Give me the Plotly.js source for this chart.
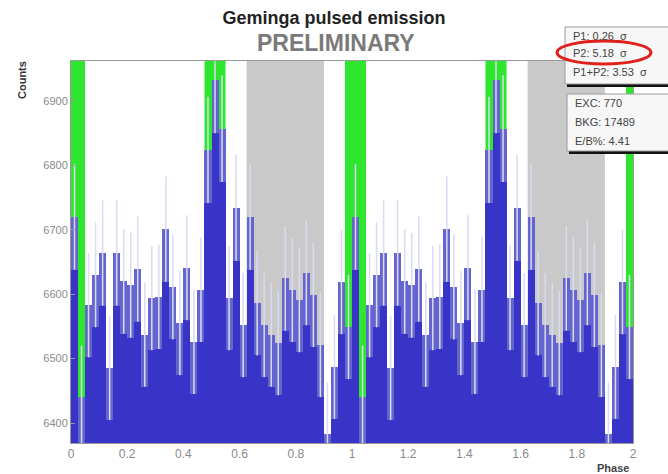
<!DOCTYPE html>
<html>
<head>
<meta charset="utf-8">
<script src="https://cdn.plot.ly/plotly-3.0.1.min.js"></script>
<style>html,body{margin:0;padding:0;background:#fff;}#chart{width:668px;height:474px;}</style>
</head>
<body>
<div id="chart"></div>
<script>
// Phasogram: 80 bins of width 0.025 in phase, two cycles (0-2)
const binWidth = 0.025;
const firstBinCenter = 0.0125;
const counts = [
  6720, 6440, 6583, 6630, 6664, 6485, 6664, 6620, 6614, 6639,
  6537, 6594, 6596, 6701, 6611, 6555, 6641, 6526, 6607, 6824,
  6933, 6857, 6594, 6734, 6552, 6720, 6586, 6552, 6537, 6524,
  6625, 6607, 6591, 6633, 6599, 6521, 6383, 6487, 6619, 6549,
  6720, 6440, 6583, 6630, 6664, 6485, 6664, 6620, 6614, 6639,
  6537, 6594, 6596, 6701, 6611, 6555, 6641, 6526, 6607, 6824,
  6933, 6857, 6594, 6734, 6552, 6720, 6586, 6552, 6537, 6524,
  6625, 6607, 6591, 6633, 6599, 6521, 6383, 6487, 6619, 6549
];
// Signal (P1, P2) and background (off) phase regions
const p1Regions = [[0, 0.05], [0.975, 1.05], [1.975, 2.0]];
const p2Regions = [[0.475, 0.55], [1.475, 1.55]];
const offRegions = [[0.625, 0.9], [1.625, 1.9]];
const statsTop = ['P1: 0.26  σ', 'P2: 5.18  σ', 'P1+P2: 3.53  σ'];
const statsBottom = ['EXC: 770', 'BKG: 17489', 'E/B%: 4.41'];

const sigma = counts.map(v => Math.sqrt(v));
const capBase = counts.map((v, i) => v - sigma[i]);

const W = 668, H = 474;
const M = {l: 71, r: 35, t: 61, b: 31};
const pw = W - M.l - M.r, ph = H - M.t - M.b;
const px = x => (x - M.l) / pw;
const py = y => (H - M.b - y) / ph;

const FONT = 'Liberation Sans Narrow, Liberation Sans, Arial, sans-serif';

const traces = [
  {type: 'bar', x0: firstBinCenter, dx: binWidth, y: counts,
   marker: {color: '#3734c7', line: {width: 0}}, hoverinfo: 'x+y', showlegend: false},
  {type: 'bar', x0: firstBinCenter, dx: binWidth, y: sigma, base: capBase,
   marker: {color: '#6565cf', line: {width: 0}}, hoverinfo: 'skip', showlegend: false},
  {type: 'scatter', mode: 'markers', x0: firstBinCenter, dx: binWidth, y: counts,
   marker: {size: 1, opacity: 0}, hoverinfo: 'skip', showlegend: false,
   error_y: {type: 'sqrt', color: '#dadaf1', thickness: 1.5, width: 0}}
];

const shapes = [];
p1Regions.concat(p2Regions).forEach(r => shapes.push({type: 'rect', xref: 'x', yref: 'paper',
  x0: r[0], x1: r[1], y0: 0, y1: 1, fillcolor: '#2ee62e', line: {width: 0}, layer: 'below'}));
offRegions.forEach(r => shapes.push({type: 'rect', xref: 'x', yref: 'paper',
  x0: r[0], x1: r[1], y0: 0, y1: 1, fillcolor: '#c9c9c9', line: {width: 0}, layer: 'below'}));
// stats boxes with black bottom shadow
function box(x0, y0, x1, y1) {
  shapes.push({type: 'rect', xref: 'paper', yref: 'paper', x0: px(x0 + 2), x1: px(x1), y0: py(y1 + 3), y1: py(y1),
    fillcolor: '#111', line: {width: 0}, layer: 'above'});
  shapes.push({type: 'rect', xref: 'paper', yref: 'paper', x0: px(x0), x1: px(x1), y0: py(y1), y1: py(y0),
    fillcolor: '#f7f7f7', line: {width: 1, color: '#9a9a9a'}, layer: 'above'});
}
box(565, 27, 672, 84);
box(567, 94, 672, 151);
shapes.push({type: 'circle', xref: 'paper', yref: 'paper', x0: px(557), x1: px(651), y0: py(64), y1: py(41),
  line: {color: '#e0201c', width: 3}, layer: 'above'});

const annotations = [];
const topY = [36, 53, 72], botY = [103, 122, 141];
statsTop.forEach((t, i) => annotations.push({xref: 'paper', yref: 'paper', x: px(571), y: py(topY[i]),
  xanchor: 'left', yanchor: 'middle', showarrow: false, text: t, font: {family: FONT, size: 11, color: '#444'}}));
statsBottom.forEach((t, i) => annotations.push({xref: 'paper', yref: 'paper', x: px(573), y: py(botY[i]),
  xanchor: 'left', yanchor: 'middle', showarrow: false, text: t, font: {family: FONT, size: 11, color: '#444'}}));
annotations.push({xref: 'paper', yref: 'paper', x: px(336), y: py(43), xanchor: 'center', yanchor: 'middle',
  showarrow: false, text: '<b>PRELIMINARY</b>', font: {family: FONT, size: 23, color: '#7a7a7a'}});
annotations.push({xref: 'paper', yref: 'paper', x: px(22), y: py(80), xanchor: 'center', yanchor: 'middle',
  textangle: -90, showarrow: false, text: '<b>Counts</b>', font: {family: FONT, size: 11, color: '#333'}});
annotations.push({xref: 'paper', yref: 'paper', x: px(613), y: py(468), xanchor: 'center', yanchor: 'middle',
  showarrow: false, text: '<b>Phase</b>', font: {family: FONT, size: 11, color: '#444'}});

const layout = {
  width: W, height: H,
  margin: M,
  paper_bgcolor: '#ffffff', plot_bgcolor: '#ffffff',
  barmode: 'overlay', bargap: 0,
  title: {text: '<b>Geminga pulsed emission</b>', x: 0.5, xref: 'container', xanchor: 'center',
    y: 1 - 18 / H, yanchor: 'middle', font: {family: 'Liberation Sans, Arial, sans-serif', size: 18, color: '#222'}},
  xaxis: {range: [0, 2], dtick: 0.2, tick0: 0, showgrid: false, zeroline: false,
    showline: true, mirror: true, linecolor: '#999', linewidth: 1, ticks: '',
    tickfont: {family: FONT, size: 12, color: '#8a8a8a'}},
  yaxis: {range: [6369, 6962], dtick: 100, tick0: 6400, showgrid: false, zeroline: false,
    showline: true, mirror: true, linecolor: '#999', linewidth: 1, ticks: 'inside', ticklen: 4, tickcolor: '#999',
    tickfont: {family: FONT, size: 11, color: '#8a8a8a'}},
  shapes: shapes,
  annotations: annotations,
  showlegend: false
};

Plotly.newPlot('chart', traces, layout, {displayModeBar: false, staticPlot: true});
</script>
</body>
</html>
